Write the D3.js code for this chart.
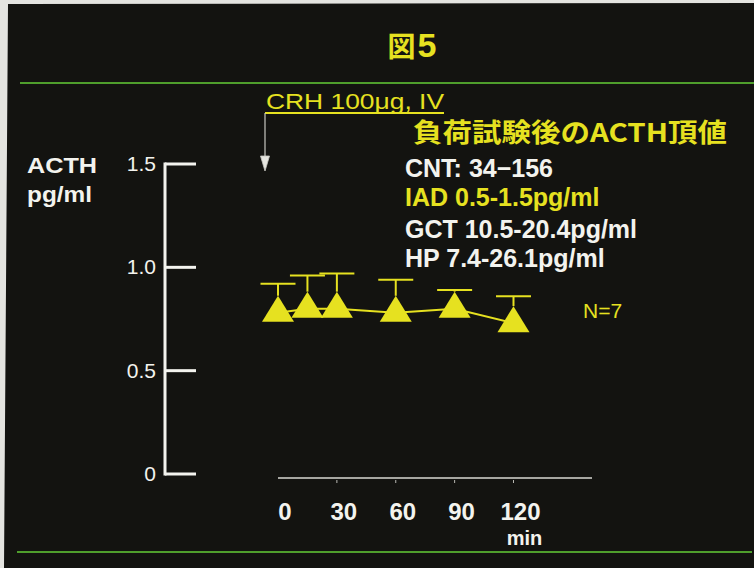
<!DOCTYPE html>
<html>
<head>
<meta charset="utf-8">
<script src="https://cdn.jsdelivr.net/npm/d3@7"></script>
<style>
  html, body { margin: 0; padding: 0; background: #141411; }
  svg { display: block; }
</style>
</head>
<body>
<svg id="chart" width="754" height="568"></svg>
<script>
// ---- data ----
const times = [0, 15, 30, 60, 90, 120];            // min
const acthMean = [0.78, 0.80, 0.80, 0.78, 0.80, 0.73]; // pg/ml
const acthSD = [0.14, 0.16, 0.17, 0.16, 0.09, 0.13];
const xTicks = [0, 30, 60, 90, 120];
const xTickLabels = ["0", "30", "60", "90", "120"];
const yTicks = [0, 0.5, 1.0, 1.5];
const yTickLabels = ["0", "0.5", "1.0", "1.5"];
const noteLines = ["CNT: 34\u2212156", "IAD 0.5-1.5pg/ml", "GCT 10.5-20.4pg/ml", "HP 7.4-26.1pg/ml"];
const noteHighlight = [false, true, false, false];

const YELLOW = "#e6e120";
const WHITE = "#f3f3ee";
const GREEN = "#4f9e2c";
const LATIN = "'Liberation Sans', Arial, Helvetica, sans-serif";
const CJK = "'Noto Sans CJK JP', 'Noto Sans CJK SC', sans-serif";

const svg = d3.select("#chart");

// background
svg.append("rect").attr("width", 754).attr("height", 568).attr("fill", "#131310");
// scan edge (white strip)
svg.append("path").attr("d", "M0,0 L754,0 L754,3 L8,4 L4,568 L0,568 Z").attr("fill", "#e4e4e0");

// green rules
svg.append("line").attr("x1", 20).attr("x2", 754).attr("y1", 83).attr("y2", 83)
  .attr("stroke", GREEN).attr("stroke-width", 2);
svg.append("line").attr("x1", 17).attr("x2", 752).attr("y1", 552).attr("y2", 552)
  .attr("stroke", GREEN).attr("stroke-width", 2);

// title
const title = svg.append("text").attr("x", 412).attr("y", 57).attr("text-anchor", "middle")
  .attr("fill", YELLOW).attr("font-weight", "bold");
title.append("tspan").attr("font-family", CJK).attr("font-size", 28).text("図");
title.append("tspan").attr("font-family", "'Liberation Sans Narrow', " + LATIN).attr("font-size", 34).attr("dx", 2).text("5");

// scales
const x = d3.scaleLinear().domain([0, 160]).range([278, 592]);
const y = d3.scaleLinear().domain([0, 1.5]).range([474, 164]);

// y axis
const yAxis = svg.append("g").attr("transform", "translate(165,0)");
yAxis.append("line").attr("x1", 0).attr("x2", 0).attr("y1", y(1.5) - 1.5).attr("y2", y(0) + 1.5)
  .attr("stroke", WHITE).attr("stroke-width", 3);
yAxis.selectAll("line.tick").data(yTicks).join("line").attr("class", "tick")
  .attr("x1", 0).attr("x2", 31).attr("y1", d => y(d)).attr("y2", d => y(d))
  .attr("stroke", WHITE).attr("stroke-width", 3);
yAxis.selectAll("text").data(yTicks).join("text")
  .attr("x", -9).attr("y", d => y(d) + 7).attr("text-anchor", "end")
  .attr("font-family", LATIN).attr("font-size", 21).attr("fill", WHITE)
  .text((d, i) => yTickLabels[i]);

// y title
svg.append("text").attr("x", 27).attr("y", 173).attr("font-family", LATIN).attr("font-weight", "bold")
  .attr("font-size", 22).attr("fill", WHITE).attr("textLength", 70).attr("lengthAdjust", "spacingAndGlyphs").text("ACTH");
svg.append("text").attr("x", 27).attr("y", 202).attr("font-family", LATIN).attr("font-weight", "bold")
  .attr("font-size", 22).attr("fill", WHITE).attr("textLength", 65).attr("lengthAdjust", "spacingAndGlyphs").text("pg/ml");

// x axis
const xAxisY = 478;
svg.append("line").attr("x1", x(0)).attr("x2", x(160)).attr("y1", xAxisY).attr("y2", xAxisY)
  .attr("stroke", "#d8d8d2").attr("stroke-width", 1.5);
svg.selectAll("line.xtick").data(xTicks.filter(d => d > 0)).join("line").attr("class", "xtick")
  .attr("x1", d => x(d)).attr("x2", d => x(d)).attr("y1", xAxisY + 2).attr("y2", xAxisY + 5)
  .attr("stroke", "#b8b8b2").attr("stroke-width", 1);
svg.selectAll("text.xlab").data(xTicks).join("text").attr("class", "xlab")
  .attr("x", d => x(d) + 7).attr("y", 520).attr("text-anchor", "middle")
  .attr("font-family", LATIN).attr("font-weight", "bold").attr("font-size", 24).attr("fill", WHITE)
  .text((d, i) => xTickLabels[i]);
svg.append("text").attr("x", x(120) + 11).attr("y", 545).attr("text-anchor", "middle")
  .attr("font-family", LATIN).attr("font-weight", "bold").attr("font-size", 20).attr("fill", WHITE).text("min");

// CRH annotation
svg.append("text").attr("x", 266).attr("y", 109)
  .attr("font-family", "'Liberation Sans Narrow', " + LATIN).attr("font-size", 22).attr("fill", YELLOW)
  .attr("textLength", 178).attr("lengthAdjust", "spacingAndGlyphs").text("CRH 100\u03bcg, IV");
svg.append("line").attr("x1", 265).attr("x2", 444).attr("y1", 113).attr("y2", 113)
  .attr("stroke", YELLOW).attr("stroke-width", 2);
svg.append("line").attr("x1", x(0) - 13).attr("x2", x(0) - 13).attr("y1", 113).attr("y2", 157)
  .attr("stroke", "#c8c8c2").attr("stroke-width", 1.2);
svg.append("path").attr("d", `M${x(0) - 17.5},156 L${x(0) - 8.5},156 L${x(0) - 13},171 Z`)
  .attr("fill", "#e6e6e0").attr("stroke", "#c8c8c2").attr("stroke-width", 0.8);

// right text block
svg.append("text").attr("x", 413).attr("y", 142).attr("font-family", CJK).attr("font-weight", "bold")
  .attr("font-size", 26).attr("fill", YELLOW).attr("textLength", 314).attr("lengthAdjust", "spacingAndGlyphs")
  .text("負荷試験後のACTH頂値");
const noteY = [177, 206, 238, 267];
svg.selectAll("text.note").data(noteLines).join("text").attr("class", "note")
  .attr("x", 405).attr("y", (d, i) => noteY[i])
  .attr("font-family", LATIN).attr("font-weight", "bold").attr("font-size", 25)
  .attr("fill", (d, i) => noteHighlight[i] ? YELLOW : WHITE).text(d => d);

// N=7
svg.append("text").attr("x", 583).attr("y", 318).attr("font-family", LATIN).attr("font-size", 21)
  .attr("fill", YELLOW).text("N=7");

// data
const data = times.map((t, i) => ({ t, m: acthMean[i], sd: acthSD[i] }));
const plot = svg.append("g");
plot.append("path").datum(data)
  .attr("d", d3.line().x(d => x(d.t)).y(d => y(d.m)))
  .attr("fill", "none").attr("stroke", YELLOW).attr("stroke-width", 2);
const TRI_UP = 17, TRI_DOWN = 9, TRI_HALF = 16;
plot.selectAll("line.stem").data(data).join("line").attr("class", "stem")
  .attr("x1", d => x(d.t)).attr("x2", d => x(d.t))
  .attr("y1", d => y(d.m) - TRI_UP).attr("y2", d => y(d.m + d.sd))
  .attr("stroke", YELLOW).attr("stroke-width", 2);
plot.selectAll("line.cap").data(data).join("line").attr("class", "cap")
  .attr("x1", d => x(d.t) - 17.5).attr("x2", d => x(d.t) + 17.5)
  .attr("y1", d => y(d.m + d.sd)).attr("y2", d => y(d.m + d.sd))
  .attr("stroke", YELLOW).attr("stroke-width", 2);
plot.selectAll("path.tri").data(data).join("path").attr("class", "tri")
  .attr("d", d => {
    const cx = x(d.t), cy = y(d.m);
    return `M${cx},${cy - TRI_UP} L${cx + TRI_HALF},${cy + TRI_DOWN} L${cx - TRI_HALF},${cy + TRI_DOWN} Z`;
  })
  .attr("fill", YELLOW);
</script>
</body>
</html>
